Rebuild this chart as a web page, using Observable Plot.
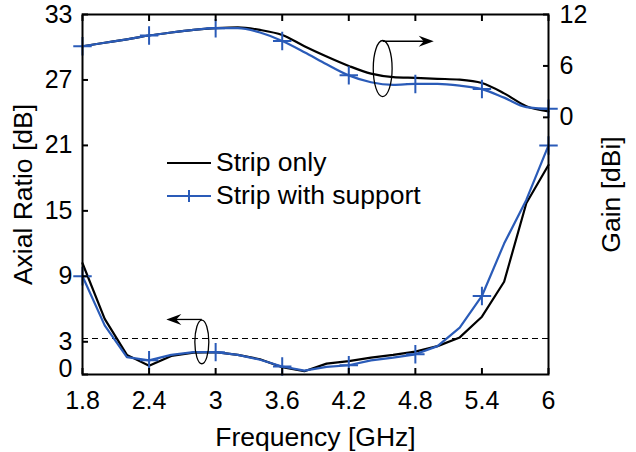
<!DOCTYPE html>
<html><head><meta charset="utf-8">
<script src="https://cdn.jsdelivr.net/npm/d3@7"></script>
<script src="https://cdn.jsdelivr.net/npm/@observablehq/plot@0.6"></script>
<style>
body{margin:0;background:#fff;font-family:"Liberation Sans",Arial,sans-serif;}
#wrap{position:relative;width:636px;height:452px;overflow:hidden;}
#legend{position:absolute;left:167px;top:146px;font-size:26.5px;color:#000;line-height:33px;}
#legend .row{display:flex;align-items:center;height:33px;white-space:nowrap;}
#legend svg{margin-right:5px;}
</style></head><body>
<div id="wrap"><div id="chart"></div><div id="legend"></div></div>
<script>
// ---- data ----
const freq = [1.8,2.0,2.2,2.4,2.6,2.8,3.0,3.2,3.4,3.6,3.8,4.0,4.2,4.4,4.6,4.8,5.0,5.2,5.4,5.6,5.8,6.0];
const arStrip   = [10.2,5.1,1.8,0.8,1.7,2.0,2.05,1.8,1.4,0.67,0.3,1.0,1.22,1.55,1.8,2.1,2.6,3.4,5.3,8.5,15.7,19.2];
const arSupport = [9.0,4.5,1.6,1.3,1.8,2.05,2.05,1.8,1.35,0.73,0.35,0.7,0.85,1.3,1.55,1.85,2.6,4.3,7.2,12.0,16.0,21.0];
const gainStrip   = [8.3,8.7,9.1,9.55,9.9,10.2,10.4,10.5,10.2,9.6,8.3,7.1,6.0,5.1,4.7,4.6,4.5,4.4,4.0,2.8,1.3,0.7];
const gainSupport = [8.3,8.7,9.1,9.55,9.9,10.2,10.4,10.4,9.9,8.9,7.6,6.2,4.9,4.1,3.8,3.9,3.9,3.7,3.3,2.3,1.2,1.0];
const seriesNames = ["Strip only","Strip with support"];
const xTicks = [1.8,2.4,3,3.6,4.2,4.8,5.4,6];
const arTicks = [0,3,9,15,21,27,33];
const gainTicks = [0,6,12];
const arThreshold = 3.3;
const arDomain = [0,33];
const gainDomain = [-30,12];
// annotation ellipses (data units) with arrows pointing to the relevant axis
const annotations = [
  {cx:4.51, cy:28.0, rx:0.085, ry:2.57, ay:30.5, ax2:4.97},
  {cx:2.88, cy:2.94, rx:0.063, ry:2.0,  ay:5.0,  ax2:2.56}
];

// ---- helpers ----
const g2y = g => (g - gainDomain[0])/(gainDomain[1]-gainDomain[0])*(arDomain[1]-arDomain[0]) + arDomain[0];
const y2g = y => (y - arDomain[0])/(arDomain[1]-arDomain[0])*(gainDomain[1]-gainDomain[0]) + gainDomain[0];
const colors = {strip:"#000000", support:"#2a5bb8"};
const rows = (vals, conv) => freq.map((f,i)=>({f, v: conv ? conv(vals[i]) : vals[i]}));
const isTick = f => xTicks.some(t => Math.abs(t-f) < 1e-6);

const arS = rows(arStrip), arP = rows(arSupport);
const gS = rows(gainStrip, g2y), gP = rows(gainSupport, g2y);
const blank = () => "";
const LBL = 26.5;

const font = '"Liberation Sans", Arial, sans-serif';
const plot = Plot.plot({
  width: 636, height: 452,
  marginLeft: 82, marginRight: 88, marginTop: 14, marginBottom: 78,
  style: {fontFamily: font, fontSize: "25px", color: "#000", background: "#fff", overflow: "visible"},
  x: {domain: [1.8, 6]},
  y: {domain: arDomain},
  marks: [
    Plot.ruleY([arThreshold], {stroke:"#000", strokeWidth:1.2, strokeDasharray:"6,4"}),
    Plot.line(arS, {x:"f", y:"v", stroke:colors.strip, strokeWidth:2.2}),
    Plot.line(gS, {x:"f", y:"v", stroke:colors.strip, strokeWidth:2.2, curve:"monotone-x"}),
    Plot.line(arP, {x:"f", y:"v", stroke:colors.support, strokeWidth:2.2}),
    Plot.line(gP, {x:"f", y:"v", stroke:colors.support, strokeWidth:2.2, curve:"monotone-x"}),
    Plot.dot(arP.filter(d=>isTick(d.f)), {x:"f", y:"v", symbol:"plus", r:6, stroke:colors.support, strokeWidth:2}),
    Plot.dot(gP.filter(d=>isTick(d.f)), {x:"f", y:"v", symbol:"plus", r:6, stroke:colors.support, strokeWidth:2}),
    Plot.frame({stroke:"#000", strokeWidth:2}),
    // inward ticks
    Plot.axisX({anchor:"bottom", ticks:xTicks, tickSize:-6, strokeWidth:2, tickFormat:blank, label:null}),
    Plot.axisX({anchor:"top", ticks:xTicks, tickSize:-6, strokeWidth:2, tickFormat:blank, label:null}),
    Plot.axisY({anchor:"left", ticks:arTicks, tickSize:-6, strokeWidth:2, tickFormat:blank, label:null}),
    Plot.axisY({anchor:"right", ticks:gainTicks.map(g2y), tickSize:-6, strokeWidth:2, tickFormat:blank, label:null}),
    // tick labels
    Plot.axisX({anchor:"bottom", ticks:xTicks, tickSize:0, tickPadding:17, tickFormat:d=>String(d), label:null}),
    Plot.axisY({anchor:"left", ticks:arTicks.filter(d=>d!==0), tickSize:0, tickPadding:10, tickFormat:d=>String(d), label:null}),
    Plot.axisY({anchor:"left", ticks:[0], tickSize:0, tickPadding:10, dy:-6, tickFormat:d=>String(d), label:null}),
    Plot.axisY({anchor:"right", ticks:gainTicks.map(g2y), tickSize:0, tickPadding:11, tickFormat:d=>String(Math.round(y2g(d))), label:null}),
    // axis titles
    Plot.axisX({anchor:"bottom", ticks:[], tickSize:0, tickFormat:blank, fontSize:LBL,
      label:"Frequency [GHz]", labelAnchor:"center", labelOffset:71, labelArrow:"none"}),
    Plot.axisY({anchor:"left", ticks:[], tickSize:0, tickFormat:blank, fontSize:LBL,
      label:"Axial Ratio [dB]", labelAnchor:"center", labelOffset:69, labelArrow:"none"}),
    Plot.axisY({anchor:"right", ticks:[], tickSize:0, tickFormat:blank, fontSize:LBL,
      label:"Gain [dBi]", labelAnchor:"center", labelOffset:71, labelArrow:"none"})
  ]
});
document.getElementById("chart").appendChild(plot);

// annotations: ellipses + arrows, positioned via the plot's scales
const sx = plot.scale("x"), sy = plot.scale("y");
const svg = d3.select(plot);
const ann = svg.append("g").attr("fill","none").attr("stroke","#000");
for (const a of annotations) {
  const cx = sx.apply(a.cx), cy = sy.apply(a.cy);
  const rx = Math.abs(sx.apply(a.cx + a.rx) - cx), ry = Math.abs(sy.apply(a.cy + a.ry) - cy);
  ann.append("ellipse").attr("cx",cx).attr("cy",cy).attr("rx",rx).attr("ry",ry).attr("stroke-width",1.3);
  const y = sy.apply(a.ay), x1 = cx, x2 = sx.apply(a.ax2);
  const dir = Math.sign(x2 - x1);
  ann.append("line").attr("x1",x1).attr("y1",y).attr("x2",x2 - dir*8).attr("y2",y).attr("stroke-width",1.3);
  const L = 15, W = 5.5, N = 10;
  ann.append("path")
    .attr("d", `M${x2},${y}L${x2-dir*L},${y-W}L${x2-dir*N},${y}L${x2-dir*L},${y+W}Z`)
    .attr("fill","#000").attr("stroke","none");
}

// legend
const leg = d3.select("#legend");
seriesNames.forEach((name,i)=>{
  const row = leg.append("div").attr("class","row");
  const s = row.append("svg").attr("width",44).attr("height",20);
  const c = i===0 ? colors.strip : colors.support;
  s.append("line").attr("x1",0).attr("x2",44).attr("y1",10).attr("y2",10).attr("stroke",c).attr("stroke-width",2);
  if (i===1) s.append("path").attr("d","M22,4V16M16,10H28").attr("stroke",c).attr("stroke-width",2);
  row.append("span").text(name);
});
</script>
</body></html>
